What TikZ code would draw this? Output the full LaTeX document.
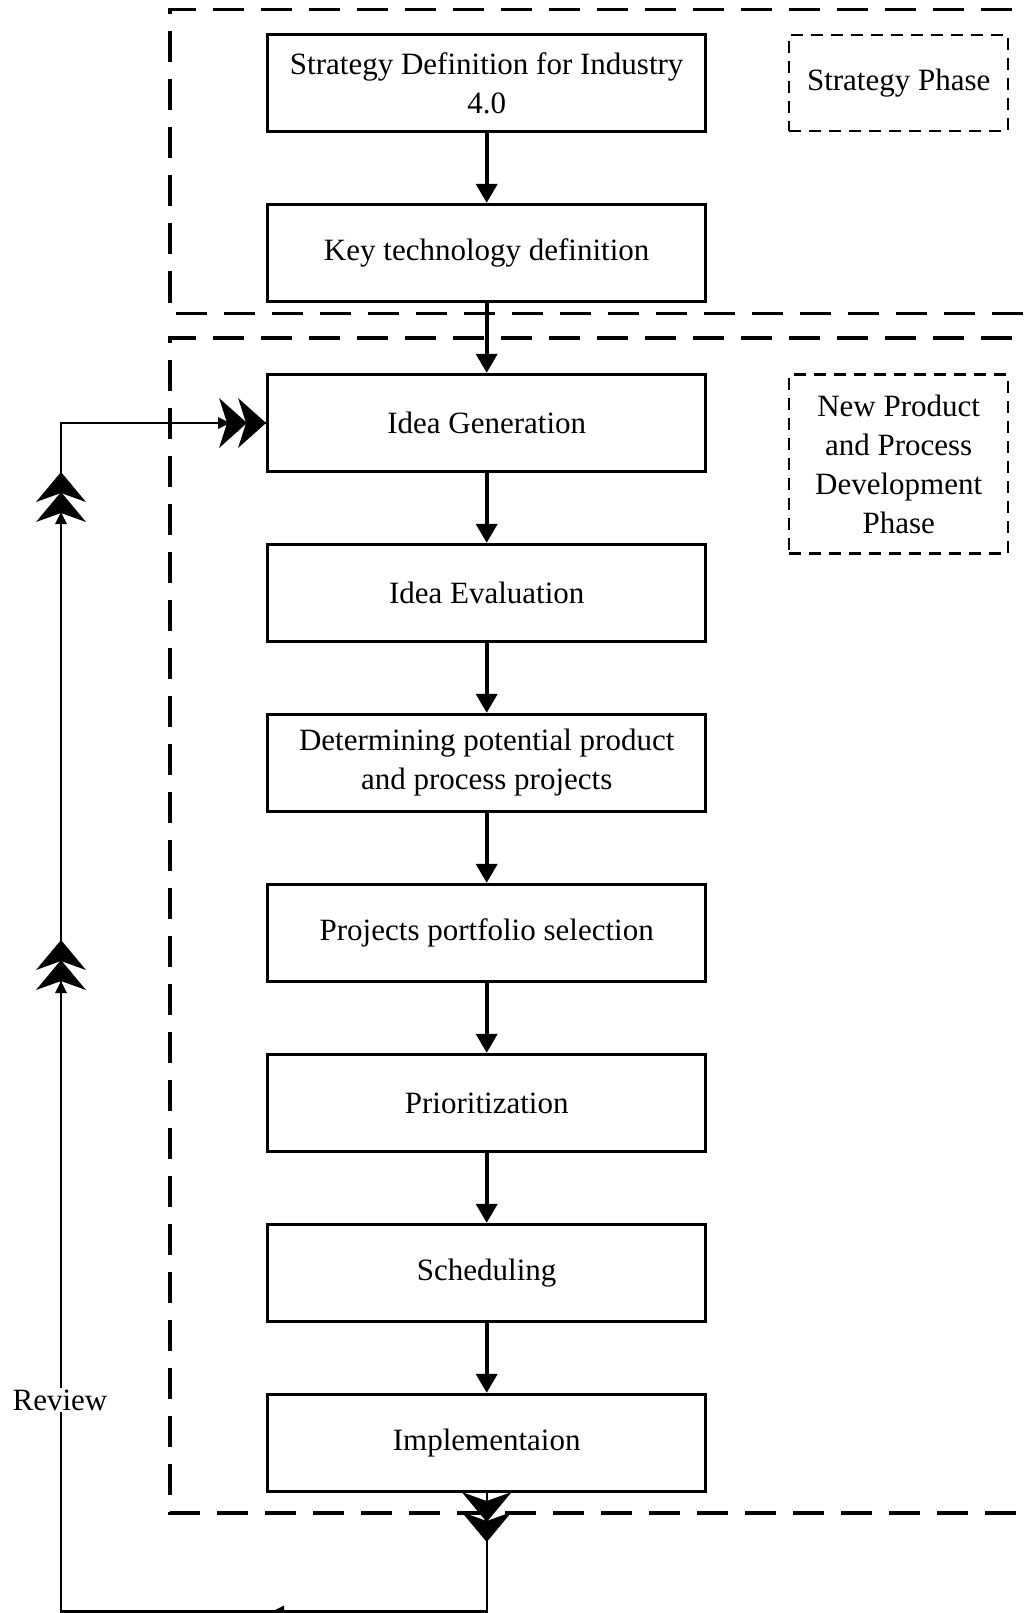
\documentclass[tikz,border=0pt]{standalone}
\usepackage{fontspec}
\setmainfont{Liberation Serif}
\usetikzlibrary{arrows.meta}
\begin{document}
\begin{tikzpicture}[x=1pt,y=-1pt,
  stepbox/.style={draw, line width=3.3pt, minimum width=438pt, minimum height=97pt,
    inner sep=0pt, align=center, font=\fontsize{31}{39}\selectfont},
  phasebox/.style={draw, line width=2.3pt, dash pattern=on 12pt off 8pt,
    minimum width=219pt, inner sep=0pt, align=center, font=\fontsize{31}{39}\selectfont},
  frame/.style={line width=3.6pt, dash pattern=on 31pt off 17pt},
  flow/.style={line width=3.8pt, -{Triangle[length=19pt,width=21pt]}},
  loopline/.style={line width=2.4pt},
  chevR/.pic={\fill (0,0) -- (-28,-25) -- (-20,0) -- (-28,25) -- cycle;
              \fill (-19,0) -- (-47,-25) -- (-39,0) -- (-47,25) -- cycle;},
  chevU/.pic={\fill (0,0) -- (-25,30) -- (0,21) -- (25,30) -- cycle;
              \fill (0,20) -- (-25,50) -- (0,41) -- (25,50) -- cycle;},
  chevD/.pic={\fill (0,0) -- (-25,-30) -- (0,-21) -- (25,-30) -- cycle;
              \fill (0,20) -- (-25,-10) -- (0,-1) -- (25,-10) -- cycle;},
  tipR/.pic={\fill (0,0) -- (-12,-6) -- (-12,6) -- cycle;},
  tipU/.pic={\fill (0,0) -- (-6,12) -- (6,12) -- cycle;},
  tipL/.pic={\fill (0,0) -- (12,-6) -- (12,6) -- cycle;}
]
\useasboundingbox (0,0) rectangle (1027,1613);
\clip (0,0) rectangle (1027,1613);
\fill[white] (0,0) rectangle (1027,1613);

% phase frames
\draw[frame] (1060,9.5) -- (170,9.5) -- (170,313.5) -- (1060,313.5);
\draw[frame] (1060,338) -- (170,338) -- (170,1513) -- (1060,1513);

% step boxes
\node[stepbox, fill=white] (s1) at (486.7,83) {Strategy Definition for Industry\\4.0};
\node[stepbox, fill=white] (s2) at (486.7,253) {Key technology definition};
\node[stepbox, fill=white] (s3) at (486.7,423) {Idea Generation};
\node[stepbox, fill=white] (s4) at (486.7,593) {Idea Evaluation};
\node[stepbox, fill=white] (s5) at (486.7,763) {Determining potential product\\and process projects};
\node[stepbox, fill=white] (s6) at (486.7,933) {Projects portfolio selection};
\node[stepbox, fill=white] (s7) at (486.7,1103) {Prioritization};
\node[stepbox, fill=white] (s8) at (486.7,1273) {Scheduling};
\node[stepbox, fill=white] (s9) at (486.7,1443) {Implementaion};

% phase labels
\node[phasebox, minimum height=96pt] (p1) at (898.7,83.3) {Strategy Phase};
\node[phasebox, minimum height=179pt] (p2) at (898.7,464) {New Product\\and Process\\Development\\Phase};

% flow arrows
\foreach \a/\b in {s1/s2,s2/s3,s3/s4,s4/s5,s5/s6,s6/s7,s7/s8,s8/s9}
  \draw[flow] (\a.south) -- (\b.north);

% review loop
\coordinate (c1) at (486.7,1611.5);
\coordinate (c2) at (61,1611.5);
\coordinate (c3) at (61,423);
\draw[loopline] (s9.south) -- (c1) -- (c2) -- (c3) -- (s3.west);
\node[fill=white, inner sep=2pt, font=\fontsize{31}{39}\selectfont] (rev) at (60,1400) {Review};

% arrowheads on loop
\pic at (s3.west) {chevR};
\pic at (230,423) {tipR};
\pic at (61,472) {chevU};
\pic at (61,512) {tipU};
\pic at (61,940) {chevU};
\pic at (61,981) {tipU};
\pic at (486.7,1522) {chevD};
\pic at (272,1611.5) {tipL};
\end{tikzpicture}
\end{document}
